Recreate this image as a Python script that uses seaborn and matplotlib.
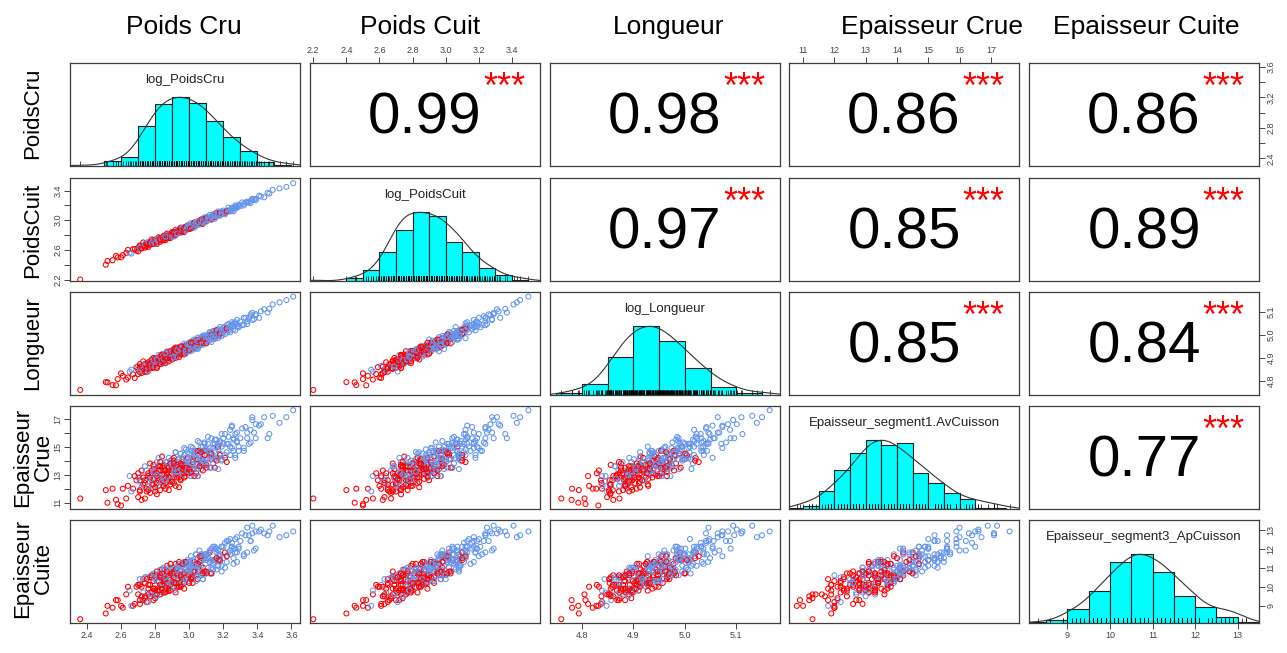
import matplotlib
matplotlib.use("Agg")
import matplotlib.pyplot as plt
import pandas as pd
import seaborn as sns

# ---------------------------------------------------------------------------
# Measurements, one entry per animal (same order in every list of a lot)
# R = first batch, B = second batch
# ---------------------------------------------------------------------------
groupe_lot1 = list(
    "R"
    "RRR"
    "RRBRR"
    "RBRRRBRBRRBRRRBRRRBRR"
    "RRBRRBRRBRRBRRRBRRBRRBRRBRRBRRBRB"
    "RBRRBBRRBRRBBRRBBRBRBRBRBRBRRBBRRBB"
    "BRBBRBBRBBRBBRBBRBRBBRBBRBBRBBRBB"
    "BRBBRBBRBBBBRBBBBRBBBBBB"
    "BR" "BBBBBBBBBB" "BBBBBBBBBB" "BBBBB"
)
log_poids_cru_lot1 = [
    2.36,
    2.52, 2.55, 2.58,
    2.61, 2.63, 2.65, 2.67, 2.69,
    2.70, 2.70, 2.71, 2.71, 2.72, 2.72, 2.73, 2.73, 2.74, 2.74, 2.75, 2.75, 2.76, 2.76, 2.77, 2.77, 2.78, 2.78, 2.79, 2.79, 2.79,
    2.80, 2.80, 2.80, 2.81, 2.81, 2.81, 2.82, 2.82, 2.82, 2.83, 2.83, 2.83, 2.84, 2.84, 2.84, 2.84, 2.85, 2.85, 2.85, 2.86, 2.86,
    2.86, 2.86, 2.87, 2.87, 2.87, 2.88, 2.88, 2.88, 2.89, 2.89, 2.89, 2.89,
    2.90, 2.90, 2.90, 2.91, 2.91, 2.91, 2.91, 2.92, 2.92, 2.92, 2.93, 2.93, 2.93, 2.93, 2.94, 2.94, 2.94, 2.95, 2.95, 2.95, 2.95,
    2.96, 2.96, 2.96, 2.96, 2.97, 2.97, 2.97, 2.98, 2.98, 2.98, 2.98, 2.99, 2.99, 2.99,
    3.00, 3.00, 3.00, 3.01, 3.01, 3.01, 3.02, 3.02, 3.02, 3.02, 3.03, 3.03, 3.03, 3.04, 3.04, 3.04, 3.05, 3.05, 3.05, 3.05,
    3.06, 3.06, 3.06, 3.06, 3.07, 3.07, 3.07, 3.08, 3.08, 3.08, 3.09, 3.09, 3.09,
    3.10, 3.10, 3.11, 3.11, 3.12, 3.12, 3.12, 3.13, 3.13, 3.13, 3.14, 3.14, 3.15, 3.15, 3.15, 3.16, 3.16, 3.17, 3.17, 3.17,
    3.18, 3.18, 3.19, 3.19,
    3.20, 3.21, 3.21, 3.22, 3.22, 3.23, 3.24, 3.24, 3.25, 3.26, 3.26, 3.27, 3.28, 3.28, 3.29,
    3.30, 3.32, 3.33, 3.34, 3.35, 3.36, 3.37, 3.39,
    3.42, 3.47, 3.53, 3.61,
]
log_poids_cuit_lot1 = [
    2.20,
    2.45, 2.46, 2.50,
    2.53, 2.56, 2.56, 2.61, 2.59,
    2.63, 2.61, 2.63, 2.65, 2.62, 2.65, 2.65, 2.64, 2.67, 2.65, 2.67, 2.65, 2.69, 2.68, 2.71, 2.68, 2.70, 2.71, 2.70, 2.72, 2.69,
    2.72, 2.70, 2.73, 2.72, 2.70, 2.73, 2.72, 2.74, 2.73, 2.76, 2.73, 2.74, 2.74, 2.76, 2.75, 2.77, 2.74, 2.77, 2.76, 2.77, 2.76,
    2.78, 2.79, 2.77, 2.78, 2.79, 2.77, 2.80, 2.79, 2.81, 2.79, 2.80, 2.82,
    2.81, 2.82, 2.79, 2.83, 2.82, 2.81, 2.84, 2.82, 2.84, 2.83, 2.84, 2.82, 2.85, 2.85, 2.84, 2.85, 2.87, 2.86, 2.85, 2.87, 2.86,
    2.85, 2.88, 2.87, 2.89, 2.87, 2.88, 2.89, 2.89, 2.90, 2.88, 2.91, 2.89, 2.90, 2.91,
    2.91, 2.89, 2.92, 2.92, 2.93, 2.91, 2.95, 2.93, 2.92, 2.94, 2.93, 2.94, 2.95, 2.93, 2.96, 2.95, 2.97, 2.96, 2.95, 2.98,
    2.97, 2.98, 2.96, 2.98, 2.98, 2.99, 2.96, 2.98, 2.99, 3.00, 3.00, 3.02, 2.99,
    3.01, 2.99, 3.01, 3.02, 3.02, 3.03, 3.01, 3.03, 3.04, 3.05, 3.04, 3.05, 3.04, 3.06, 3.07, 3.06, 3.07, 3.07, 3.08, 3.09,
    3.08, 3.09, 3.09, 3.10,
    3.11, 3.10, 3.11, 3.11, 3.13, 3.13, 3.12, 3.14, 3.16, 3.15, 3.16, 3.18, 3.18, 3.17, 3.19,
    3.19, 3.22, 3.24, 3.24, 3.24, 3.26, 3.28, 3.29,
    3.32, 3.36, 3.43, 3.50,
]
log_longueur_lot1 = [
    4.760,
    4.793, 4.781, 4.807,
    4.821, 4.805, 4.839, 4.828, 4.859,
    4.849, 4.864, 4.837, 4.860, 4.833, 4.857, 4.854, 4.846, 4.873, 4.854, 4.871, 4.839, 4.867, 4.852, 4.885, 4.876, 4.856,
    4.873, 4.887, 4.869, 4.899,
    4.868, 4.892, 4.882, 4.861, 4.888, 4.896, 4.882, 4.896, 4.872, 4.907, 4.880, 4.894, 4.876, 4.893, 4.914, 4.887, 4.904,
    4.884, 4.911, 4.896, 4.911, 4.879, 4.903, 4.910, 4.888, 4.920, 4.898, 4.915, 4.905, 4.897, 4.930, 4.913, 4.900,
    4.918, 4.901, 4.929, 4.911, 4.924, 4.900, 4.938, 4.911, 4.931, 4.899, 4.924, 4.937, 4.912, 4.929, 4.913, 4.931, 4.945,
    4.928, 4.939, 4.913, 4.932, 4.946, 4.926, 4.932, 4.952, 4.927, 4.944, 4.914, 4.950, 4.936, 4.955, 4.927, 4.948, 4.926,
    4.952,
    4.958, 4.939, 4.947, 4.935, 4.967, 4.955, 4.943, 4.957, 4.974, 4.950, 4.941, 4.965, 4.969, 4.955, 4.976, 4.949, 4.970,
    4.943, 4.965, 4.987, 4.966, 4.954, 4.976, 4.960, 4.983, 4.962, 4.989, 4.971, 4.984, 4.957, 4.982, 4.991, 4.973,
    4.988, 4.969, 5.000, 4.977, 4.990, 5.007, 4.974, 4.999, 4.988, 5.003, 4.985, 5.016, 4.992, 5.007, 4.982, 5.006, 5.016,
    4.994, 5.007, 5.023, 5.000, 5.019, 4.995, 5.018,
    5.008, 5.021, 5.031, 5.009, 5.041, 5.021, 5.037, 5.010, 5.042, 5.036, 5.024, 5.054, 5.036, 5.064, 5.036,
    5.056, 5.043, 5.073, 5.058, 5.071, 5.088, 5.064, 5.089,
    5.101, 5.112, 5.140, 5.165,
]
epaisseur_crue_lot1 = [
    11.3,
    11.0, 12.0, 10.9,
    12.0, 11.3, 12.9, 12.0, 12.6,
    11.4, 12.8, 12.6, 11.9, 13.3, 12.1, 12.3, 12.9, 11.3, 12.6, 13.3, 12.0, 12.9, 11.9, 12.7, 13.8, 12.3, 13.1, 12.0, 12.7, 13.4,
    13.0, 11.8, 13.3, 12.9, 12.4, 13.9, 12.6, 13.6, 12.2, 13.3, 11.9, 13.1, 13.5, 12.6, 14.3, 12.4, 13.0, 12.2, 13.7, 13.3,
    12.8, 13.9, 12.4, 13.6, 13.0, 13.2, 11.9, 13.5, 13.3, 12.8, 14.0, 12.5, 13.5,
    13.4, 14.1, 12.7, 12.4, 13.7, 13.0, 14.0, 13.3, 14.6, 13.1, 12.8, 13.9, 13.3, 13.7, 12.1, 13.5, 14.1, 13.7, 13.1, 12.7,
    14.5, 14.1, 13.2, 13.4, 13.9, 13.1, 14.4, 13.7, 12.9, 13.8, 14.8, 13.4, 14.2, 13.3, 13.7,
    14.2, 13.1, 13.7, 14.7, 13.6, 12.9, 14.1, 13.4, 14.9, 13.7, 14.3, 13.4, 14.5, 13.1, 14.1, 14.7, 14.1, 13.7, 12.9, 15.4,
    14.4, 14.7, 13.6, 14.2, 13.8, 15.0, 13.4, 14.1, 14.7, 13.9, 14.7, 15.2, 13.7,
    14.5, 13.7, 15.2, 14.1, 14.5, 14.9, 13.5, 14.1, 15.6, 14.4, 14.9, 13.8, 13.5, 15.2, 14.7, 14.2, 15.5, 15.0, 14.2, 15.2,
    14.5, 15.4, 14.0, 15.0,
    15.2, 14.2, 15.9, 14.6, 15.2, 15.7, 14.4, 15.0, 16.4, 14.7, 15.6, 14.2, 15.4, 16.0, 15.0,
    15.6, 14.7, 16.4, 15.6, 15.2, 16.2, 17.1, 15.6,
    16.6, 15.9, 16.7, 17.6,
]
epaisseur_cuite_lot1 = [
    8.3,
    9.0, 8.9, 9.3,
    8.9, 9.6, 9.8, 9.0, 10.0,
    9.6, 10.1, 9.1, 10.1, 10.0, 9.3, 10.4, 9.7, 9.4, 10.2, 10.5, 9.2, 10.1, 9.6, 9.7, 10.5, 10.5, 9.7, 10.6, 9.3, 10.3,
    9.8, 9.9, 9.6, 10.6, 9.8, 10.3, 10.3, 9.8, 10.5, 10.1, 10.1, 10.9, 9.9, 10.1, 10.9, 9.7, 10.1, 10.3, 10.9, 9.7,
    10.4, 10.6, 9.9, 10.7, 9.9, 11.1, 9.8, 10.4, 9.9, 10.7, 10.8, 10.1, 11.0,
    10.2, 10.9, 10.3, 10.7, 10.0, 10.6, 10.5, 11.2, 10.9, 9.7, 10.7, 11.0, 10.1, 10.6, 10.0, 11.2, 10.4, 10.1, 10.8, 10.5,
    11.1, 10.4, 11.1, 10.4, 10.7, 11.3, 11.2, 10.2, 10.4, 11.2, 10.8, 11.3, 10.6, 10.5, 11.4,
    11.1, 10.6, 10.3, 11.2, 10.5, 11.0, 11.4, 10.2, 11.0, 11.1, 11.3, 10.6, 11.1, 11.2, 10.6, 11.7, 10.4, 11.2, 10.8, 11.5,
    10.8, 11.6, 10.9, 11.9, 10.6, 11.1, 11.4, 11.0, 11.6, 10.4, 11.5, 11.5, 10.7,
    11.4, 10.7, 11.7, 11.0, 11.8, 11.3, 11.3, 10.7, 12.0, 11.0, 12.1, 11.2, 11.4, 11.4, 12.1, 10.9, 11.8, 11.4, 11.7, 11.1,
    11.7, 11.6, 11.1, 12.1,
    11.5, 11.8, 12.3, 11.3, 12.4, 11.8, 11.7, 12.5, 12.3, 11.2, 12.0, 12.0, 11.8, 12.6, 12.0,
    12.4, 11.7, 12.7, 11.8, 12.7, 12.4, 12.8, 12.0,
    13.0, 12.9, 12.6, 12.9,
]

groupe_lot2 = list(
    "RR"
    "RRBR"
    "RRBRRRBRRBRRRBRRB"
    "RBRRRBRRBRRRBRRBRRBRRBRRBRB"
    "BRRBRBRBRBRRBRBRBRBRBRBRBRBRB"
    "BRBBRBBRBBRBBRBBRBBRBRBBRBB"
    "BRBBBRBBBBRBBBBRBBBB"
    "BBRBBBBBBBBB"
    "BBBBBBB"
    "BBBBB"
)
log_poids_cru_lot2 = [
    2.51, 2.57,
    2.60, 2.64, 2.66, 2.68,
    2.70, 2.71, 2.71, 2.72, 2.73, 2.74, 2.74, 2.75, 2.76, 2.76, 2.77, 2.77, 2.78, 2.78, 2.79, 2.79, 2.79,
    2.80, 2.80, 2.81, 2.81, 2.82, 2.82, 2.83, 2.83, 2.84, 2.84, 2.85, 2.85, 2.85, 2.86, 2.86, 2.87, 2.87, 2.87, 2.88, 2.88,
    2.88, 2.89, 2.89, 2.89, 2.81, 2.83, 2.86,
    2.90, 2.90, 2.91, 2.91, 2.92, 2.92, 2.92, 2.93, 2.93, 2.94, 2.94, 2.94, 2.95, 2.95, 2.96, 2.96, 2.96, 2.97, 2.97, 2.97,
    2.98, 2.98, 2.98, 2.99, 2.99, 2.91, 2.93, 2.95, 2.99,
    3.00, 3.00, 3.01, 3.01, 3.02, 3.02, 3.03, 3.03, 3.04, 3.04, 3.05, 3.05, 3.06, 3.06, 3.07, 3.07, 3.08, 3.08, 3.09, 3.09,
    3.00, 3.01, 3.03, 3.05, 3.07, 3.08, 3.09,
    3.10, 3.10, 3.11, 3.12, 3.12, 3.13, 3.13, 3.14, 3.15, 3.15, 3.16, 3.16, 3.17, 3.17, 3.18, 3.18, 3.19, 3.19, 3.11, 3.14,
    3.20, 3.21, 3.22, 3.23, 3.24, 3.25, 3.26, 3.27, 3.27, 3.28, 3.29, 3.25,
    3.31, 3.32, 3.34, 3.36, 3.37, 3.38, 3.39,
    3.41, 3.44, 3.46, 3.49, 3.57,
]
log_poids_cuit_lot2 = [
    2.40, 2.52,
    2.50, 2.60, 2.55, 2.61,
    2.58, 2.66, 2.63, 2.62, 2.70, 2.63, 2.68, 2.68, 2.64, 2.71, 2.69, 2.67, 2.74, 2.69, 2.68, 2.73, 2.72,
    2.74, 2.69, 2.68, 2.73, 2.77, 2.72, 2.71, 2.76, 2.75, 2.73, 2.79, 2.73, 2.77, 2.79, 2.73, 2.81, 2.77, 2.82, 2.77, 2.80,
    2.76, 2.82, 2.80, 2.76, 2.74, 2.74, 2.78,
    2.78, 2.84, 2.83, 2.78, 2.87, 2.82, 2.80, 2.86, 2.84, 2.88, 2.83, 2.86, 2.83, 2.90, 2.87, 2.85, 2.89, 2.84, 2.91, 2.89,
    2.88, 2.91, 2.86, 2.93, 2.90, 2.84, 2.82, 2.85, 2.92,
    2.94, 2.88, 2.92, 2.96, 2.91, 2.94, 2.90, 2.97, 2.97, 2.93, 2.96, 2.99, 2.94, 2.98, 3.00, 2.97, 2.95, 3.02, 3.00, 3.02,
    2.92, 2.89, 2.94, 2.97, 3.01, 2.97, 3.04,
    2.98, 3.03, 3.05, 3.02, 3.07, 3.01, 3.04, 3.07, 3.02, 3.07, 3.10, 3.05, 3.08, 3.12, 3.06, 3.10, 3.12, 3.08, 3.01, 3.08,
    3.13, 3.08, 3.12, 3.17, 3.12, 3.17, 3.12, 3.18, 3.20, 3.17, 3.21, 3.13,
    3.24, 3.20, 3.25, 3.23, 3.29, 3.28, 3.27,
    3.33, 3.31, 3.37, 3.41, 3.45,
]
log_longueur_lot2 = [
    4.794, 4.780,
    4.832, 4.814, 4.848, 4.812,
    4.829, 4.872, 4.844, 4.861, 4.884, 4.838, 4.864, 4.853, 4.880, 4.840, 4.872, 4.856, 4.892, 4.866, 4.884, 4.856, 4.888,
    4.896, 4.864, 4.887, 4.855, 4.896, 4.912, 4.881, 4.891, 4.874, 4.912, 4.885, 4.909, 4.896, 4.876, 4.906, 4.919, 4.898,
    4.926, 4.892, 4.910, 4.884, 4.921, 4.907, 4.928, 4.890, 4.872, 4.920,
    4.928, 4.892, 4.919, 4.904, 4.944, 4.913, 4.929, 4.905, 4.943, 4.928, 4.902, 4.939, 4.937, 4.917, 4.951, 4.924, 4.937,
    4.920, 4.960, 4.937, 4.929, 4.953, 4.917, 4.952, 4.939, 4.932, 4.932, 4.949, 4.959,
    4.966, 4.932, 4.955, 4.928, 4.965, 4.948, 4.979, 4.947, 4.963, 4.943, 4.978, 4.938, 4.976, 4.964, 4.988, 4.957, 4.979,
    4.995, 4.966, 4.981, 4.954, 4.965, 4.936, 4.972, 4.964, 4.958, 4.997,
    4.994, 4.962, 4.985, 5.011, 4.978, 5.001, 4.968, 5.011, 5.001, 4.983, 5.020, 4.993, 5.013, 4.985, 5.033, 5.004, 5.023,
    4.995, 4.990, 4.982,
    5.032, 5.002, 5.027, 5.046, 5.018, 5.032, 5.049, 5.018, 5.048, 5.045, 5.032, 5.054,
    5.041, 5.073, 5.046, 5.080, 5.094, 5.067, 5.084,
    5.073, 5.110, 5.096, 5.131, 5.150,
]
epaisseur_crue_lot2 = [
    11.9, 11.2,
    10.8, 12.2, 11.8, 12.9,
    13.1, 11.8, 12.5, 11.2, 12.8, 12.4, 13.6, 11.8, 13.1, 12.2, 12.8, 11.7, 13.3, 12.7, 12.3, 13.7, 13.2,
    12.1, 13.6, 13.1, 11.6, 13.3, 14.2, 12.7, 13.6, 12.5, 13.0, 12.2, 13.6, 12.9, 13.3, 12.0, 13.9, 12.6, 13.1, 14.2, 12.8,
    13.5, 12.6, 13.8, 12.3, 13.0, 13.9, 12.6,
    13.7, 12.5, 14.2, 13.1, 13.6, 14.6, 12.2, 13.5, 13.0, 14.1, 12.8, 13.4, 14.5, 12.6, 13.9, 13.7, 13.0, 13.3, 14.9, 12.8,
    14.2, 13.5, 13.9, 13.1, 14.6, 13.8, 13.2, 13.8, 13.3,
    14.5, 13.4, 12.9, 15.0, 13.9, 13.3, 14.4, 12.9, 14.2, 13.7, 14.7, 13.4, 15.3, 13.6, 14.1, 14.7, 13.3, 15.0, 13.9, 14.4,
    13.9, 13.2, 14.7, 12.9, 14.6, 14.0, 15.3,
    14.8, 13.5, 15.7, 14.1, 14.6, 14.5, 13.5, 15.2, 14.1, 15.5, 14.0, 15.0, 13.4, 14.8, 15.3, 14.4, 15.9, 14.1, 14.7, 14.3,
    15.6, 14.4, 13.9, 15.2, 16.2, 14.9, 15.5, 14.4, 15.9, 15.3, 14.7, 16.5,
    16.3, 14.9, 16.0, 15.3, 16.9, 16.0, 16.6,
    16.5, 17.1, 15.6, 17.2, 17.1,
]
epaisseur_cuite_lot2 = [
    8.6, 9.3,
    9.0, 10.0, 9.0, 9.1,
    10.1, 9.3, 10.4, 9.5, 9.3, 9.5, 10.5, 10.4, 9.9, 9.2, 10.1, 9.5, 10.6, 9.6, 9.9, 9.9, 10.7,
    9.4, 10.4, 10.8, 9.6, 9.8, 10.7, 10.5, 9.6, 10.2, 10.7, 9.7, 10.4, 11.0, 9.8, 10.3, 10.3, 10.8, 10.2, 11.0, 9.8,
    10.6, 10.2, 11.2, 9.8, 9.5, 10.6, 10.5,
    10.2, 10.7, 10.8, 9.8, 10.9, 10.6, 10.2, 11.1, 10.0, 11.1, 10.2, 11.3, 10.8, 10.6, 10.2, 11.2, 10.2, 10.7, 11.3, 9.9,
    10.9, 11.3, 10.4, 10.8, 10.8, 10.2, 10.9, 10.0, 11.2,
    11.3, 10.2, 10.8, 11.6, 10.5, 11.3, 10.8, 10.8, 11.7, 10.3, 11.2, 11.1, 11.0, 11.3, 10.6, 11.7, 10.7, 11.4, 11.7, 10.8,
    10.9, 10.4, 11.1, 10.6, 11.6, 10.4, 11.7,
    11.7, 10.8, 11.7, 10.7, 11.9, 10.7, 11.4, 11.4, 12.0, 11.3, 11.5, 12.0, 11.1, 11.9, 11.3, 11.4, 12.1, 10.8, 11.5, 10.9,
    12.1, 11.0, 11.6, 12.4, 11.9, 12.1, 11.5, 11.8, 12.5, 11.3, 12.1, 12.1,
    12.8, 11.6, 13.1, 12.4, 13.2, 11.9, 12.9,
    12.9, 12.8, 12.7, 13.2, 12.7,
]

# Histogram bins on the diagonal (bar height relative to the tallest bar)
hist_edges_poids_cru = [2.5, 2.6, 2.7, 2.8, 2.9, 3.0, 3.1, 3.2, 3.3, 3.4, 3.5, 3.6]
hist_heights_poids_cru = [0.07, 0.13, 0.58, 0.91, 1.00, 0.92, 0.66, 0.42, 0.22, 0.06, 0.02]
hist_edges_poids_cuit = [2.4, 2.5, 2.6, 2.7, 2.8, 2.9, 3.0, 3.1, 3.2, 3.3, 3.4, 3.5]
hist_heights_poids_cuit = [0.04, 0.16, 0.42, 0.75, 1.00, 0.94, 0.57, 0.42, 0.19, 0.09, 0.02]
hist_edges_longueur = [4.75, 4.80, 4.85, 4.90, 4.95, 5.00, 5.05, 5.10, 5.15]
hist_heights_longueur = [0.03, 0.16, 0.55, 1.00, 0.78, 0.39, 0.12, 0.03]
hist_edges_ep_crue = [10.5, 11.0, 11.5, 12.0, 12.5, 13.0, 13.5, 14.0, 14.5, 15.0, 15.5, 16.0, 16.5, 17.0, 17.5]
hist_heights_ep_crue = [0.015, 0.05, 0.26, 0.57, 0.81, 1.00, 0.93, 0.96, 0.53, 0.38, 0.23, 0.15, 0.02, 0.01]
hist_edges_ep_cuite = [8.0, 8.5, 9.0, 9.5, 10.0, 10.5, 11.0, 11.5, 12.0, 12.5, 13.0, 13.5]
hist_heights_ep_cuite = [0.01, 0.05, 0.21, 0.47, 0.89, 1.00, 0.74, 0.39, 0.23, 0.09, 0.02]

# Pearson correlations of the upper triangle (row by row) and their significance
correlations = [0.99, 0.98, 0.86, 0.86, 0.97, 0.85, 0.89, 0.85, 0.84, 0.77]
significance = ["***", "***", "***", "***", "***", "***", "***", "***", "***", "***"]

variables = ["log_PoidsCru", "log_PoidsCuit", "log_Longueur",
             "Epaisseur_segment1.AvCuisson", "Epaisseur_segment3_ApCuisson"]
col_titles = ["Poids Cru", "Poids Cuit", "Longueur", "Epaisseur Crue", "Epaisseur Cuite"]
row_titles = ["PoidsCru", "PoidsCuit", "Longueur", "Epaisseur\nCrue", "Epaisseur\nCuite"]
axis_ticks = [
    [2.4, 2.6, 2.8, 3.0, 3.2, 3.4, 3.6],
    [2.2, 2.4, 2.6, 2.8, 3.0, 3.2, 3.4],
    [4.8, 4.9, 5.0, 5.1],
    [11, 12, 13, 14, 15, 16, 17],
    [9, 10, 11, 12, 13],
]

# ---------------------------------------------------------------------------
df = pd.DataFrame({
    variables[0]: log_poids_cru_lot1 + log_poids_cru_lot2,
    variables[1]: log_poids_cuit_lot1 + log_poids_cuit_lot2,
    variables[2]: log_longueur_lot1 + log_longueur_lot2,
    variables[3]: epaisseur_crue_lot1 + epaisseur_crue_lot2,
    variables[4]: epaisseur_cuite_lot1 + epaisseur_cuite_lot2,
    "groupe": groupe_lot1 + groupe_lot2,
})
hists = [
    (hist_edges_poids_cru, hist_heights_poids_cru),
    (hist_edges_poids_cuit, hist_heights_poids_cuit),
    (hist_edges_longueur, hist_heights_longueur),
    (hist_edges_ep_crue, hist_heights_ep_crue),
    (hist_edges_ep_cuite, hist_heights_ep_cuite),
]

sns.set_theme(style="white")
plt.rcParams["font.family"] = ["Liberation Sans", "DejaVu Sans"]

palette = {"R": "#FF0000", "B": "#6495ED"}
limits = [(2.30, 3.65), (2.18, 3.57), (4.738, 5.185), (10.55, 17.90), (8.10, 13.50)]
label_fmt = ["{:.1f}", "{:.1f}", "{:.1f}", "{:.0f}", "{:.0f}"]
y_label_step = [2, 2, 1, 2, 1]

W, H = 1287, 653
fig = plt.figure(figsize=(W / 100, H / 100), dpi=100)
col_left = [70, 310, 550, 789, 1029]
row_top = [63, 178, 292, 406, 520]
PW, PH = 230, 103
FRAME = "#3c3c3c"
TICK = "#444444"


def panel_rect(i, j):
    return [col_left[j] / W, 1 - (row_top[i] + PH) / H, PW / W, PH / H]


def frame(ax):
    ax.grid(False)
    ax.set_facecolor("white")
    for sp in ax.spines.values():
        sp.set_visible(True)
        sp.set_color(FRAME)
        sp.set_linewidth(0.9)
    ax.set_xlabel("")
    ax.set_ylabel("")


def no_ticks(ax):
    ax.tick_params(bottom=False, top=False, left=False, right=False,
                   labelbottom=False, labeltop=False, labelleft=False, labelright=False)


def show_axis(ax, side, k):
    ticks = axis_ticks[k]
    fmt = label_fmt[k]
    common = dict(direction="out", length=4, width=0.7, colors=TICK, labelsize=6.5, pad=1.5)
    if side in ("bottom", "top"):
        ax.set_xticks(ticks)
        ax.set_xticklabels([fmt.format(t) for t in ticks])
        ax.tick_params(axis="x", bottom=side == "bottom", labelbottom=side == "bottom",
                       top=side == "top", labeltop=side == "top", **common)
    else:
        step = y_label_step[k]
        labels = [fmt.format(t) if n % step == 0 else "" for n, t in enumerate(ticks)]
        ax.set_yticks(ticks)
        ax.set_yticklabels(labels, rotation=90, va="center")
        ax.tick_params(axis="y", left=side == "left", labelleft=side == "left",
                       right=side == "right", labelright=side == "right", **common)


def outer_axes(ax, i, j):
    # alternating outer axes, as in a base-R pairs plot
    if i == 4 and j % 2 == 0:
        show_axis(ax, "bottom", j)
    if i == 0 and j % 2 == 1:
        show_axis(ax, "top", j)
    if j == 0 and i % 2 == 1:
        show_axis(ax, "left", i)
    if j == 4 and i % 2 == 0 and i != 4:
        show_axis(ax, "right", i)


corr_iter = iter(zip(correlations, significance))
for i in range(5):
    for j in range(5):
        rect = panel_rect(i, j)
        ax = fig.add_axes(rect)
        no_ticks(ax)
        if i == j:
            edges, heights = hists[i]
            centers = [(a + b) / 2 for a, b in zip(edges[:-1], edges[1:])]
            sns.histplot(x=centers, weights=heights, bins=edges, ax=ax,
                         color="#00FFFF", edgecolor="#1e1e1e", linewidth=0.8, alpha=1.0)
            sns.rugplot(x=df[variables[i]], ax=ax, height=0.05, color="black",
                        linewidth=0.5, expand_margins=False)
            kax = fig.add_axes(rect, sharex=ax)
            sns.kdeplot(x=df[variables[i]], ax=kax, bw_adjust=1.0, color="#333333", linewidth=0.8)
            peak = max(line.get_ydata().max() for line in kax.lines)
            kax.set_ylim(0, peak * 1.5)
            kax.set_axis_off()
            ax.set_ylim(0, 1.5)
            ax.set_xlim(limits[i])
            no_ticks(ax)
            ax.text(0.5, 0.835, variables[i], transform=ax.transAxes, ha="center", va="center",
                    fontsize=9.5, color="#222222")
            frame(ax)
            if i == 4:
                show_axis(ax, "bottom", 4)
                tax = ax.twinx()
                tax.set_ylim(limits[4])
                tax.grid(False)
                no_ticks(tax)
                show_axis(tax, "right", 4)
                for sp in tax.spines.values():
                    sp.set_visible(False)
                ax.tick_params(axis="y", left=False, labelleft=False, right=False, labelright=False)
        elif i > j:
            sns.scatterplot(data=df, x=variables[j], y=variables[i], hue="groupe",
                            palette=palette, ax=ax, s=13, linewidth=0.75, marker="o",
                            legend=False)
            pts = ax.collections[-1]
            pts.set_edgecolors(pts.get_facecolors())
            pts.set_facecolors("none")
            ax.set_xlim(limits[j])
            ax.set_ylim(limits[i])
            no_ticks(ax)
            frame(ax)
            outer_axes(ax, i, j)
        else:
            r, stars = next(corr_iter)
            ax.set_xlim(limits[j])
            ax.set_ylim(limits[i])
            ax.text(0.5, 0.46, f"{r:.2f}", transform=ax.transAxes, ha="center", va="center",
                    fontsize=42, color="black")
            ax.text(0.845, 0.75, stars, transform=ax.transAxes, ha="center", va="center",
                    fontsize=26, color="red")
            frame(ax)
            outer_axes(ax, i, j)

# Column and row headers
col_x = [184, 420, 669, 932, 1146]
for x, t in zip(col_x, col_titles):
    fig.text(x / W, 1 - 27 / H, t, ha="center", va="center", fontsize=19, color="black")

row_y = [113, 230, 343, 457, 568]
for y, t in zip(row_y, row_titles):
    fig.text(33 / W, 1 - y / H, t, ha="center", va="center", rotation=90, fontsize=16,
             color="black", multialignment="center", linespacing=0.95)

fig.savefig("out.png", dpi=100, facecolor="white")
